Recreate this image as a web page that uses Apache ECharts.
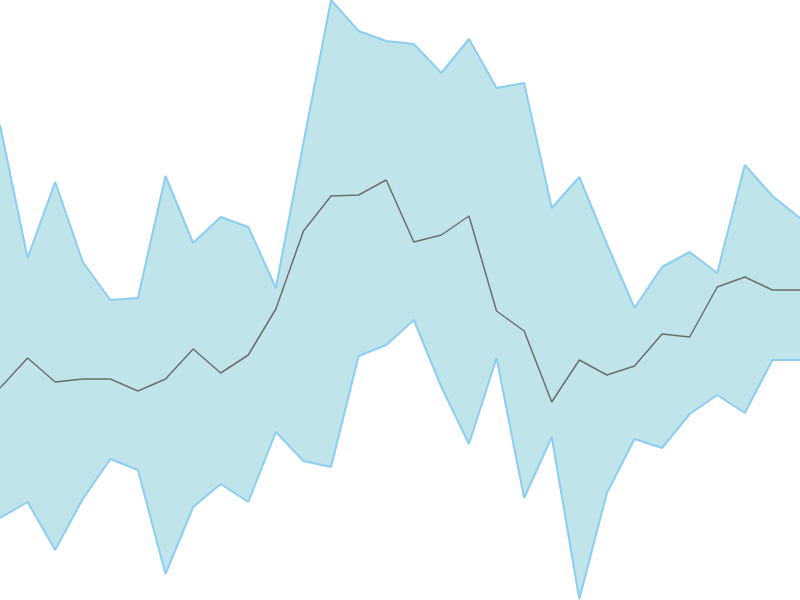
<!DOCTYPE html>
<html>
<head>
<meta charset="utf-8">
<script src="https://cdn.jsdelivr.net/npm/echarts@6/dist/echarts.min.js"></script>
<style>html,body{margin:0;padding:0;background:#fff}#c{width:800px;height:600px}</style>
</head>
<body>
<div id="c"></div>
<script>
var categories = ['1','2','3','4','5','6','7','8','9','10','11','12','13','14','15','16','17','18','19','20','21','22','23','24','25','26','27','28','29','30'];
var upper = [475,342,418,338,300,302,424,357,383,373,312,457,600,569,559,556,527,561,512,517,392,423,356,292,333,348,327,435,404,382];
var middle = [212,242,218,221,221,209,221,251,227,245,291,369,404,405,420,358,365,384,289,269,198,240,225,234,266,263,313,323,310,310];
var lower = [82,98,50,101,141,130,26,93,116,98,168,139,133,244,255,280,213,156,242,102,163,1,107,161,152,186,205,187,240,240];

var diff = upper.map(function(v,i){return v - lower[i];});
var chart = echarts.init(document.getElementById('c'));
var edge = '#8ccdf2';
chart.setOption({
  animation: false,
  grid: {left:0,right:0,top:0,bottom:0},
  xAxis: {type:'category', data: categories, boundaryGap:false, show:false},
  yAxis: {type:'value', min:0, max:600, show:false},
  series: [
    {type:'line', data: lower, stack:'band', symbol:'none', lineStyle:{opacity:0}, silent:true},
    {type:'line', data: diff, stack:'band', symbol:'none', lineStyle:{opacity:0}, areaStyle:{color:'#bfe5ea', opacity:1}, silent:true},
    {type:'line', data: upper, symbol:'none', lineStyle:{color:edge, width:2}, z:3},
    {type:'line', data: lower, symbol:'none', lineStyle:{color:edge, width:2}, z:3},
    {type:'line', data: middle, symbol:'none', lineStyle:{color:'#6e6e6e', width:1.5}, z:4}
  ]
});
</script>
</body>
</html>
